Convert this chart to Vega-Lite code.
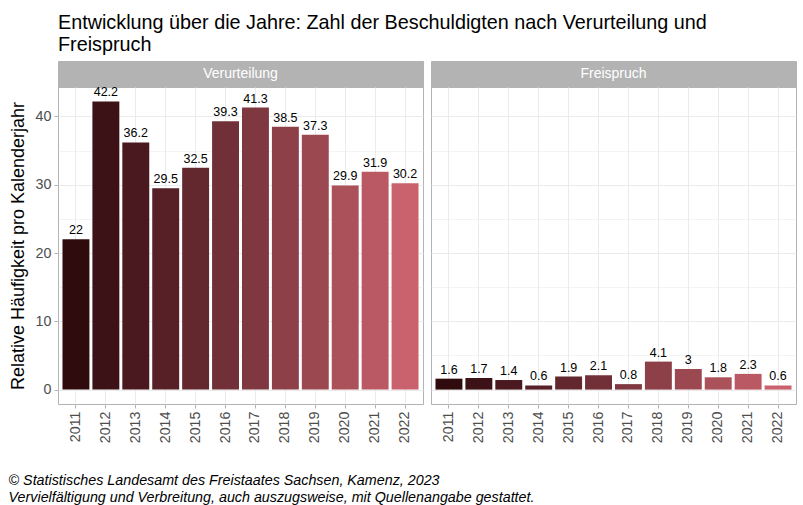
{
  "$schema": "https://vega.github.io/schema/vega-lite/v6.json",
  "background": "white",
  "padding": {"left": 8, "top": 12, "right": 8, "bottom": 4},
  "config": {
    "font": "Liberation Sans",
    "view": {"stroke": "#b3b3b3"},
    "axis": {"labelFont": "Liberation Sans", "titleFont": "Liberation Sans"}
  },
  "datasets": {
    "d": [
      {"panel": "Verurteilung", "year": 2011, "value": 22},
      {"panel": "Verurteilung", "year": 2012, "value": 42.2},
      {"panel": "Verurteilung", "year": 2013, "value": 36.2},
      {"panel": "Verurteilung", "year": 2014, "value": 29.5},
      {"panel": "Verurteilung", "year": 2015, "value": 32.5},
      {"panel": "Verurteilung", "year": 2016, "value": 39.3},
      {"panel": "Verurteilung", "year": 2017, "value": 41.3},
      {"panel": "Verurteilung", "year": 2018, "value": 38.5},
      {"panel": "Verurteilung", "year": 2019, "value": 37.3},
      {"panel": "Verurteilung", "year": 2020, "value": 29.9},
      {"panel": "Verurteilung", "year": 2021, "value": 31.9},
      {"panel": "Verurteilung", "year": 2022, "value": 30.2},
      {"panel": "Freispruch", "year": 2011, "value": 1.6},
      {"panel": "Freispruch", "year": 2012, "value": 1.7},
      {"panel": "Freispruch", "year": 2013, "value": 1.4},
      {"panel": "Freispruch", "year": 2014, "value": 0.6},
      {"panel": "Freispruch", "year": 2015, "value": 1.9},
      {"panel": "Freispruch", "year": 2016, "value": 2.1},
      {"panel": "Freispruch", "year": 2017, "value": 0.8},
      {"panel": "Freispruch", "year": 2018, "value": 4.1},
      {"panel": "Freispruch", "year": 2019, "value": 3},
      {"panel": "Freispruch", "year": 2020, "value": 1.8},
      {"panel": "Freispruch", "year": 2021, "value": 2.3},
      {"panel": "Freispruch", "year": 2022, "value": 0.6}
    ],
    "strips": [
      {"panel": "Verurteilung"},
      {"panel": "Freispruch"}
    ]
  },
  "title": {
    "text": ["© Statistisches Landesamt des Freistaates Sachsen, Kamenz, 2023", "Vervielfältigung und Verbreitung, auch auszugsweise, mit Quellenangabe gestattet."],
    "orient": "bottom",
    "anchor": "start",
    "frame": "bounds",
    "font": "Liberation Sans",
    "fontSize": 14.3,
    "fontStyle": "italic",
    "fontWeight": "normal",
    "color": "black",
    "lineHeight": 17,
    "offset": 31
  },
  "vconcat": [
    {
      "title": {
        "text": ["Entwicklung über die Jahre: Zahl der Beschuldigten nach Verurteilung und", "Freispruch"],
        "anchor": "start",
        "frame": "group",
        "font": "Liberation Sans",
        "fontSize": 19.8,
        "fontWeight": "normal",
        "color": "black",
        "lineHeight": 22,
        "offset": 6
      },
      "columns": 2,
      "bounds": "flush",
      "spacing": {"row": 0, "column": 8},
      "concat": [
        {
          "width": 365, "height": 26,
          "view": {"fill": "#b3b3b3", "stroke": "#b3b3b3"},
          "data": {"name": "strips"},
          "transform": [{"filter": "datum.panel == 'Verurteilung'"}],
          "mark": {"type": "text", "color": "white", "fontSize": 14, "baseline": "middle", "font": "Liberation Sans"},
          "encoding": {"text": {"field": "panel", "type": "nominal"}}
        },
        {
          "width": 365, "height": 26,
          "view": {"fill": "#b3b3b3", "stroke": "#b3b3b3"},
          "data": {"name": "strips"},
          "transform": [{"filter": "datum.panel == 'Freispruch'"}],
          "mark": {"type": "text", "color": "white", "fontSize": 14, "baseline": "middle", "font": "Liberation Sans"},
          "encoding": {"text": {"field": "panel", "type": "nominal"}}
        },
        {
          "width": 365, "height": 317,
          "data": {"name": "d"},
          "transform": [{"filter": "datum.panel == 'Verurteilung'"}],
          "encoding": {
            "x": {
              "field": "year", "type": "ordinal",
              "scale": {"paddingInner": 0.1, "paddingOuter": 0.15},
              "axis": {
                "title": null, "labelAngle": -90, "labelFontSize": 14.3, "labelColor": "#4d4d4d",
                "labelPadding": 3, "tickColor": "#b3b3b3", "tickSize": 4, "domain": false,
                "grid": true, "gridColor": "#ebebeb", "bandPosition": 0.5, "labelBaseline": "middle"
              }
            },
            "y": {
              "field": "value", "type": "quantitative",
              "scale": {"domain": [-2.11, 44.31], "nice": false, "zero": false},
              "axis": {
                "title": "Relative Häufigkeit pro Kalenderjahr", "titleFontSize": 18, "titleFontWeight": "normal",
                "titleColor": "black", "titlePadding": 8,
                "values": [0, 5, 10, 15, 20, 25, 30, 35, 40],
                "labelExpr": "datum.value % 10 == 0 ? datum.label : ''",
                "labelFontSize": 14.3, "labelColor": "#4d4d4d", "labelPadding": 3,
                "tickColor": "#b3b3b3", "tickSize": 4,
                "tickOpacity": {"condition": {"test": "datum.value % 10 == 0", "value": 1}, "value": 0},
                "domain": false, "grid": true, "gridColor": "#ebebeb",
                "gridWidth": {"condition": {"test": "datum.value % 10 == 0", "value": 1}, "value": 0.6}
              }
            }
          },
          "layer": [
            {
              "mark": {"type": "bar"},
              "encoding": {
                "color": {"field": "year", "type": "quantitative", "scale": {"range": ["#300b0e", "#c9626c"], "interpolate": "lab"}, "legend": null}
              }
            },
            {
              "mark": {"type": "text", "baseline": "bottom", "dy": -2, "fontSize": 12.5, "color": "black", "font": "Liberation Sans"},
              "encoding": {"text": {"field": "value", "type": "nominal"}}
            }
          ]
        },
        {
          "width": 365, "height": 317,
          "data": {"name": "d"},
          "transform": [{"filter": "datum.panel == 'Freispruch'"}],
          "encoding": {
            "x": {
              "field": "year", "type": "ordinal",
              "scale": {"paddingInner": 0.1, "paddingOuter": 0.15},
              "axis": {
                "title": null, "labelAngle": -90, "labelFontSize": 14.3, "labelColor": "#4d4d4d",
                "labelPadding": 3, "tickColor": "#b3b3b3", "tickSize": 4, "domain": false,
                "grid": true, "gridColor": "#ebebeb", "bandPosition": 0.5, "labelBaseline": "middle"
              }
            },
            "y": {
              "field": "value", "type": "quantitative",
              "scale": {"domain": [-2.11, 44.31], "nice": false, "zero": false},
              "axis": {
                "title": null, "labels": false, "ticks": false,
                "values": [0, 5, 10, 15, 20, 25, 30, 35, 40],
                "domain": false, "grid": true, "gridColor": "#ebebeb",
                "gridWidth": {"condition": {"test": "datum.value % 10 == 0", "value": 1}, "value": 0.6}
              }
            }
          },
          "layer": [
            {
              "mark": {"type": "bar"},
              "encoding": {
                "color": {"field": "year", "type": "quantitative", "scale": {"range": ["#300b0e", "#c9626c"], "interpolate": "lab"}, "legend": null}
              }
            },
            {
              "mark": {"type": "text", "baseline": "bottom", "dy": -2, "fontSize": 12.5, "color": "black", "font": "Liberation Sans"},
              "encoding": {"text": {"field": "value", "type": "nominal"}}
            }
          ]
        }
      ]
    }
  ]
}
